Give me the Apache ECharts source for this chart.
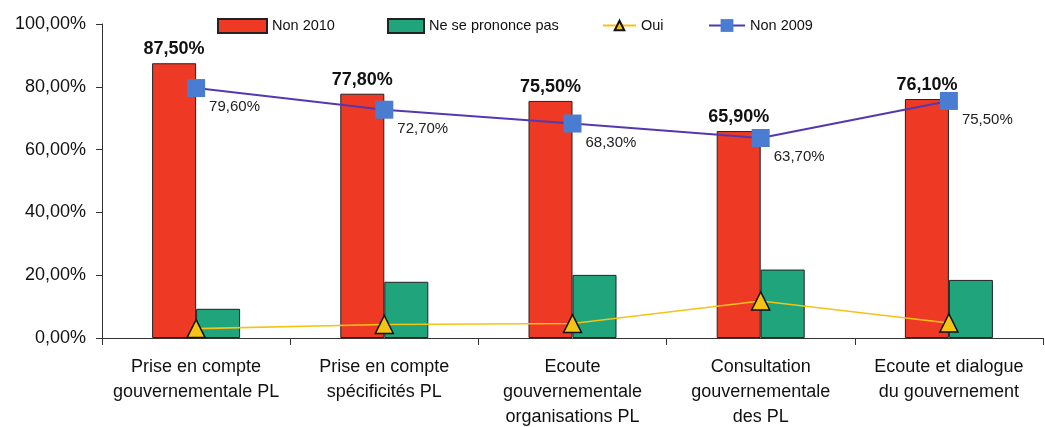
<!DOCTYPE html>
<html>
<head>
<meta charset="utf-8">
<script src="https://cdn.jsdelivr.net/npm/echarts@6/dist/echarts.min.js"></script>
<style>
  html, body { margin: 0; padding: 0; background: #fff; }
  #chart { width: 1045px; height: 427px; }
</style>
</head>
<body>
<div id="chart"></div>
<script>
// données
var categories = [
    'Prise en compte\ngouvernementale PL',
    'Prise en compte\nspécificités PL',
    'Ecoute\ngouvernementale\norganisations PL',
    'Consultation\ngouvernementale\ndes PL',
    'Ecoute et dialogue\ndu gouvernement'
];
var non2010 = [87.5, 77.8, 75.5, 65.9, 76.1];
var neSePrononcePas = [9.3, 17.9, 20.1, 21.8, 18.5];
var oui = [3.0, 4.3, 4.6, 11.8, 4.8];
var non2009 = [79.6, 72.7, 68.3, 63.7, 75.5];
var yTicks = [0, 20, 40, 60, 80, 100];

function pct(v) {
    return v.toFixed(2).replace('.', ',') + '%';
}

var chart = echarts.init(document.getElementById('chart'));

var legendText = { fontFamily: 'Liberation Sans', fontSize: 14.5, color: '#111' };

var option = {
    backgroundColor: '#fff',
    animation: false,
    textStyle: { fontFamily: 'Liberation Sans' },
    legend: [
        { data: [{ name: 'Non 2010', icon: 'rect' }], left: 217, top: 18, padding: 0, itemWidth: 49, itemHeight: 14, itemGap: 6, textStyle: legendText },
        { data: [{ name: 'Ne se prononce pas', icon: 'rect' }], left: 387, top: 18, padding: 0, itemWidth: 36, itemHeight: 14, itemGap: 4, textStyle: legendText },
        { data: ['Oui'], left: 602, top: 18, padding: 0, itemWidth: 33, itemHeight: 12, itemGap: 4, textStyle: legendText },
        { data: ['Non 2009'], left: 708, top: 18, padding: 0, itemWidth: 36, itemHeight: 16, itemGap: 4, textStyle: legendText }
    ],
    grid: { left: 102, right: 2, top: 24, bottom: 89, containLabel: false, outerBoundsMode: 'none' },
    xAxis: {
        type: 'category',
        data: categories,
        axisLine: { lineStyle: { color: '#333', width: 1 } },
        axisTick: { show: true, length: 7, lineStyle: { color: '#333' } },
        axisLabel: {
            interval: 0,
            margin: 17,
            fontSize: 18,
            lineHeight: 25,
            color: '#111'
        },
        splitLine: { show: false }
    },
    yAxis: {
        type: 'value',
        min: yTicks[0],
        max: yTicks[yTicks.length - 1],
        interval: 20,
        axisLine: { show: true, lineStyle: { color: '#333', width: 1 } },
        axisTick: { show: true, length: 6, lineStyle: { color: '#333' } },
        axisLabel: {
            fontSize: 18,
            color: '#111',
            margin: 16,
            formatter: function (v) { return pct(v); }
        },
        splitLine: { show: false }
    },
    series: [
        {
            name: 'Non 2010',
            type: 'bar',
            data: non2010,
            barWidth: 44,
            barGap: '0%',
            itemStyle: { color: '#EE3A24', borderColor: '#222', borderWidth: 1 },
            label: {
                show: true,
                position: 'top',
                distance: 5,
                fontSize: 18,
                fontWeight: 'bold',
                color: '#111',
                formatter: function (p) { return pct(p.value); }
            },
            z: 2
        },
        {
            name: 'Ne se prononce pas',
            type: 'bar',
            data: neSePrononcePas,
            barWidth: 44,
            barGap: '0%',
            itemStyle: { color: '#1FA47C', borderColor: '#222', borderWidth: 1 },
            z: 2
        },
        {
            name: 'Oui',
            type: 'line',
            data: oui,
            symbol: 'triangle',
            symbolSize: 18,
            lineStyle: { color: '#F5C316', width: 1.6 },
            itemStyle: { color: '#F5C316', borderColor: '#111', borderWidth: 1.5 },
            z: 4
        },
        {
            name: 'Non 2009',
            type: 'line',
            data: non2009,
            symbol: 'rect',
            symbolSize: 18,
            lineStyle: { color: '#5538B0', width: 2 },
            itemStyle: { color: '#4A7DD2', borderColor: '#4A7DD2', borderWidth: 0 },
            label: {
                show: true,
                position: 'right',
                distance: 4,
                offset: [0, 19],
                fontSize: 15,
                color: '#222',
                formatter: function (p) { return pct(p.value); }
            },
            z: 5
        }
    ]
};

chart.setOption(option);
</script>
</body>
</html>
